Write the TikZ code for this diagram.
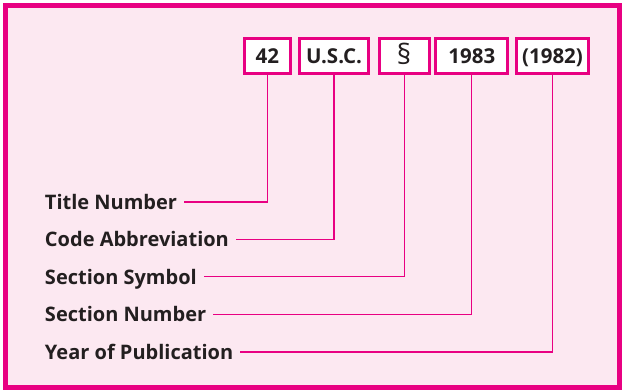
\documentclass[tikz,border=0pt]{standalone}
\usepackage{fontspec}
\setmainfont{Open Sans}
\definecolor{magenta}{RGB}{232,0,130}
\definecolor{panel}{RGB}{252,232,241}
\definecolor{ink}{RGB}{35,31,32}
\begin{document}
\begin{tikzpicture}[x=1pt,y=-1pt,
  citebox/.style={draw=magenta,line width=3pt,fill=white,minimum height=34.7pt,
    inner sep=0pt,text height=14pt,text depth=0pt,
    font=\fontsize{20.5}{22}\selectfont\bfseries,text=ink},
  lab/.style={anchor=west,inner sep=0pt,outer xsep=7pt,text height=15pt,text depth=0pt,
    font=\fontsize{20}{22}\selectfont\bfseries,text=ink},
  link/.style={draw=magenta,line width=1.2pt}]
\useasboundingbox (0,0) rectangle (622,390);
% outer panel
\draw[draw=magenta,fill=panel,line width=5pt] (5.5,5.5) rectangle (619.5,387.5);
% citation parts
\node[citebox,minimum width=46.3pt] (b1) at (267.3,56.2) {42};
\node[citebox,minimum width=69.6pt] (b2) at (334.0,56.2) {U.S.C.};
\node[citebox,minimum width=50pt,text height=17pt,font=\fontsize{28}{30}\selectfont] (b3) at (404.2,56.2) {§};
\node[citebox,minimum width=72pt] (b4) at (471.8,56.2) {1983};
\node[citebox,minimum width=72pt] (b5) at (552.5,56.2) {(1982)};
% labels
\node[lab] (l1) at (38,202) {Title Number};
\node[lab] (l2) at (38,239.3) {Code Abbreviation};
\node[lab] (l3) at (38,276.7) {Section Symbol};
\node[lab] (l4) at (38,314.3) {Section Number};
\node[lab] (l5) at (38,352) {Year of Publication};
% connectors
\draw[link] (b1.south) |- (l1.east);
\draw[link] (b2.south) |- (l2.east);
\draw[link] (b3.south) |- (l3.east);
\draw[link] (b4.south) |- (l4.east);
\draw[link] (b5.south) |- (l5.east);
\end{tikzpicture}
\end{document}
